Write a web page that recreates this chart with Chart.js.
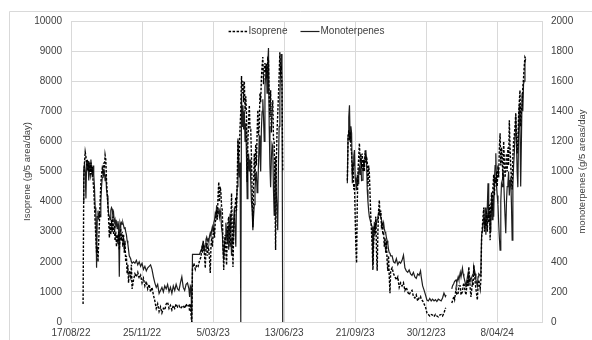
<!DOCTYPE html>
<html>
<head>
<meta charset="utf-8">
<title>Isoprene and monoterpene emissions</title>
<script src="https://cdn.jsdelivr.net/npm/chart.js@4.4.0/dist/chart.umd.min.js"></script>
<style>
  html, body { margin: 0; padding: 0; background: #fff; }
  #wrap { position: relative; width: 592px; height: 340px; }
</style>
</head>
<body>
<div id="wrap"><canvas id="emissionChart" width="592" height="340"></canvas></div>
<script>
// day 0 = 17/08/22, x axis runs in days from there
const startDate = new Date(2022, 7, 17);
const xTickStep = 100;
const xMaxDay = 663;

// sampling days (null rows break the lines where there is no data)
const days = [
  17, 18, 19, 20, 21, 22, 23, 24, 25, 26,
  27, 28, 29, 30, 31, 32, 33, 34, 35, 36,
  37, 38, 39, 40, 41, 42, 43, 44, 45, 46,
  47, 48, 49, 50, 51, 52, 53, 54, 55, 56,
  57, 58, 59, 60, 61, 62, 63, 64, 65, 66,
  67, 68, 69, 70, 71, 72, 73, 74, 75, 76,
  77, 78, 79, 80, 81, 82, 84, 85, 86, 88,
  90, 92, 94, 96, 98, 100, 102, 104, 106, 108,
  110, 112, 114, 116, 118, 120, 122, 124, 126, 128,
  130, 132, 134, 136, 138, 140, 142, 144, 146, 148,
  150, 152, 154, 156, 158, 160, 162, 164, 166, 167,
  168, 169, 170, 171, 173, 175, 177, 179, 181, 183,
  184, 185, 186, 187, 188, 189, 190, 191, 192, 193,
  194, 195, 196, 197, 198, 199, 200, 201, 202, 203,
  204, 205, 206, 207, 208, 209, 210, 211, 212, 213,
  214, 215, 216, 217, 218, 219, 220, 221, 222, 223,
  224, 225, 226, 227, 228, 229, 230, 231, 232, 233,
  234, 235, 236, 237, 238, 239, 240, 241, 242, 243,
  244, 245, 246, 247, 248, 249, 250, 251, 252, 253,
  254, 255, 256, 257, 258, 259, 260, 261, 262, 263,
  264, 265, 266, 267, 268, 269, 270, 271, 272, 273,
  274, 275, 276, 277, 278, 279, 280, 281, 282, 283,
  284, 285, 286, 287, 288, 289, 290, 291, 292, 293,
  294, 295, 296, 297, 298, 300,
  // second season
  389, 390, 391, 392, 393, 394, 395, 396, 397, 398,
  399, 400, 401, 402, 403, 404, 405, 406, 407, 408,
  409, 410, 411, 412, 413, 414, 415, 416, 417, 418,
  419, 420, 422, 424, 425, 426, 427, 428, 429, 430,
  431, 432, 433, 434, 435, 436, 437, 438, 439, 440,
  441, 442, 443, 444, 445, 446, 447, 448, 449, 450,
  452, 454, 456, 458, 460, 462, 464, 466, 468, 470,
  472, 474, 476, 478, 480, 482, 484, 486, 488, 490,
  492, 493, 495, 497, 499, 501, 503, 505, 507, 509,
  511, 513, 515, 517, 519, 521, 523, 525, 527, 528,
  531, 536, 537, 539, 540, 542, 543, 545, 546, 548,
  549, 551, 552, 553, 555, 556, 558, 559, 560, 562,
  563, 565, 566, 567, 569, 570, 572, 573, 574, 576,
  577, 578, 579, 580, 581, 582, 583, 584, 585, 586,
  587, 588, 589, 590, 591, 592, 593, 594, 595, 596,
  597, 598, 599, 600, 601, 602, 603, 604, 605, 606,
  607, 608, 609, 610, 611, 612, 613, 614, 615, 616,
  617, 618, 619, 620, 621, 622, 623, 624, 625, 626,
  627, 628, 629, 630, 631, 632, 633, 634, 635, 636,
  637, 638, 639, 640
];

// isoprene, g/5 area/day (left axis)
const isoprene = [
  600, 4800, 5300, 5650, 5500, 5200, 5400, 5000, 5300, 5050,
  4900, 5300, 4900, 5150, 4700, 4400, 3900, 3300, 2800, 2300,
  2500, 2000, 2700, 3300, 4000, 4600, 4900, 5100, 5000, 5300,
  5100, 5550, 5400, 4700, 4300, 3800, 3400, 2800, 3300, 2900,
  3400, 3000, 3500, 2900, 3200, 2700, 3000, 2500, 2900, 2600,
  3000, 2400, 2800, 3100, 2700, 3000, 2500, 2900, 2300, 2700,
  2000, 2200, 1600, 1900, 1300, 1700, 1500, 1900, 1100, 1400,
  1600, 1500, 1650, 1450, 1550, 1300, 1450, 1200, 1350, 1100,
  1250, 1000, 1150, 900, 700, 450, 600, 350, 500, 300,
  450, 400, 600, 660, 450, 550, 400, 550, 450, 600,
  500, 550, 450, 500, 550, 450, 600, 500, 550, 350,
  600, 200, 0, 1800, 1950, 1750, 1900, 1850, 2050, 2160,
  2450, 2300, 2700, 2400, 2200, 1790, 2450, 2620, 2200, 2500,
  2390, 2100, 1630, 2500, 2790, 2500, 2900, 3050, 2800, 3300,
  3500, 3720, 3400, 4200, 4650, 4000, 4500, 4320, 3800, 3720,
  2500, 1730, 2600, 2900, 2300, 1890, 2900, 3300, 3500, 2800,
  2500, 3300, 4280, 3000, 1830, 3000, 3500, 3800, 4150, 3700,
  4700, 6040, 5300, 5710, 6500, 7000, 8170, 7600, 8000, 7300,
  8000, 7000, 7500, 6900, 4650, 6000, 6700, 7200, 6400, 6400,
  5500, 4300, 3150, 4500, 5600, 4700, 5900, 5200, 6300, 7040,
  6200, 6500, 7600, 7300, 8100, 8500, 8800, 7900, 8400, 8600,
  8300, 8600, 8100, 8750, 8700, 7400, 6800, 7700, 6300, 7000,
  7370, 6100, 6000, 4500, 2390, 5200, 6300, 6900, 7500, 8200,
  8960, 8300, 8400, 7900, 5000, null,
  4700, 6100, 6370, 6040, 6300, 5800, 5600, 4900, 5300, 4400,
  4600, 3500, 2500, 1960, 4000, 5000, 5500, 5940, 5300, 5600,
  5100, 5600, 5000, 5400, 5000, 5700, 5300, 5500, 5300, 4500,
  5200, 4940, 3500, 2500, 1730, 2600, 3200, 2900, 3500, 2400,
  1700, 3000, 3700, 4050, 3500, 3700, 3200, 3300, 2900, 3000,
  2500, 2800, 2300, 2700, 2000, 1700, 2200, 1500, 960, 1700,
  1800, 1600, 1500, 1400, 1500, 1150, 1300, 1200, 1300, 1050,
  1150, 1000, 900, 1000, 1050, 850, 800, 900, 700, 800,
  850, 750, 700, 600, 500, 300, 250, 200, 250, 230,
  180, 250, 200, 170, 230, 250, 200, 300, 450, 460,
  null, 630, 700, 850, 750, 1100, 900, 960, 1200, 1200,
  900, 1000, 1200, 1300, 1000, 900, 1400, 1200, 1830, 1100,
  830, 1300, 1200, 1890, 1300, 1100, 730, 1200, 1400, 1100,
  1400, 2800, 3150, 3500, 3800, 3000, 3400, 3200, 3700, 3000,
  3600, 3300, 3900, 2720, 3800, 4300, 3700, 4500, 4900, 4200,
  4800, 4600, 5000, 4500, 5200, 4800, 5800, 6270, 5200, 5800,
  5500, 4700, 6000, 5400, 4800, 5100, 5600, 5000, 5800, 5200,
  6700, 5800, 5200, 4700, 4400, 5500, 6000, 6200, 6500, 6900,
  6300, 5600, 5900, 6800, 7300, 7700, 6500, 7000, 7200, 7800,
  8100, 8500, 8800, 8750
];

// monoterpenes, g/5 areas/day (right axis)
const monoterpenes = [
  800, 1020, 1050, 1000, 820, 1060, 1010, 1070, 940, 1060,
  1000, 1080, 1020, 960, 1040, 980, 900, 760, 720, 360,
  700, 740, 680, 720, 700, 800, 900, 960, 1020, 980,
  1000, 940, 980, 880, 840, 780, 720, 700, 680, 740,
  760, 750, 700, 720, 660, 680, 640, 660, 620, 670,
  640, 300, 660, 640, 660, 650, 660, 640, 620, 630,
  600, 580, 540, 520, 480, 440, 420, 400, 390, 400,
  390, 410, 380, 400, 370, 390, 350, 370, 340, 360,
  370, 380, 350, 300, 260, 230, 250, 190, 210, 230,
  200, 240, 220, 250, 200, 230, 190, 240, 210, 250,
  220, 210, 260, 300, 230, 210, 250, 260, 220, 166,
  240, 230, 0, 450, 450, 450, 450, 450, 450, 478,
  500, 512, 490, 500, 478, 520, 550, 564, 540, 550,
  532, 570, 590, 570, 610, 632, 600, 660, 678, 720,
  700, 776, 740, 720, 756, 700, 740, 698, 620, 590,
  480, 412, 500, 560, 660, 600, 520, 640, 480, 620,
  720, 580, 440, 560, 520, 680, 760, 600, 500, 800,
  900, 1220, 1080, 960, 1060, 0, 1520, 1300, 1440, 1280,
  1400, 1200, 1320, 1100, 820, 1000, 1120, 1000, 1080, 940,
  800, 740, 610, 700, 780, 880, 960, 1000, 860, 900,
  1060, 1240, 1120, 1000, 1280, 1400, 1480, 1360, 1200, 1560,
  1640, 1700, 1520, 1720, 1820, 1300, 1040, 896, 1080, 1180,
  1160, 880, 710, 960, 1100, 860, 740, 610, 1040, 1300,
  1500, 1680, 1780, 1660, 0, null,
  922, 1240, 1360, 1440, 1200, 1300, 1254, 922, 1040, 1100,
  1142, 960, 920, 876, 980, 920, 1000, 1030, 980, 1080,
  940, 942, 1000, 1060, 1040, 1100, 1142, 1080, 880, 800,
  740, 698, 660, 630, 380, 560, 660, 656, 620, 660,
  680, 700, 720, 740, 724, 700, 680, 660, 640, 660,
  620, 600, 590, 560, 540, 520, 480, 460, 458, 440,
  440, 400, 392, 420, 380, 400, 390, 410, 444, 360,
  340, 330, 346, 320, 310, 330, 300, 290, 320, 310,
  340, 300, 240, 212, 180, 146, 140, 156, 140, 152,
  140, 148, 136, 152, 146, 140, 160, 192, 170, 180,
  null, 220, 240, 258, 270, 280, 260, 300, 280, 330,
  300, 358, 320, 300, 260, 232, 300, 326, 260, 290,
  280, 310, 320, 366, 320, 280, 240, 300, 320, 310,
  340, 580, 600, 660, 700, 640, 760, 580, 700, 760,
  922, 700, 740, 600, 720, 800, 680, 840, 700, 940,
  1040, 1122, 900, 840, 780, 660, 560, 478, 800, 920,
  900, 1000, 960, 820, 700, 590, 800, 900, 920, 1000,
  840, 940, 960, 780, 544, 900, 1040, 1120, 1240, 1388,
  1200, 1000, 896, 1240, 1440, 1300, 900, 1200, 1520, 1400,
  1580, 1600, 1720, 1750
];

const leftTitle = 'Isoprene (g/5 area/day)';
const rightTitle = 'monoterpenes (g/5 areas/day';

const fontFamily = "'Liberation Sans', Arial, sans-serif";
const axisFont = { family: fontFamily, size: 10 };
const textColor = '#404040';
const gridColor = '#d9d9d9';

function dayLabel(value) {
  const d = new Date(startDate.getFullYear(), startDate.getMonth(), startDate.getDate() + value);
  const mm = String(d.getMonth() + 1).padStart(2, '0');
  const yy = String(d.getFullYear()).slice(2);
  return d.getDate() + '/' + mm + '/' + yy;
}

function toPoints(values) {
  return days.map((d, i) => ({ x: d, y: values[i] }));
}

// outer frame, rotated axis titles (both read bottom to top) and an
// inline legend sitting on top of the plot area
const chartDecor = {
  id: 'chartDecor',
  beforeDraw(chart) {
    const ctx = chart.ctx;
    ctx.save();
    ctx.strokeStyle = gridColor;
    ctx.lineWidth = 1;
    ctx.beginPath();
    ctx.moveTo(9.5, chart.height);
    ctx.lineTo(9.5, 11.5);
    ctx.lineTo(chart.width, 11.5);
    ctx.stroke();
    ctx.restore();
  },
  afterDraw(chart) {
    const ctx = chart.ctx;
    const area = chart.chartArea;
    const midY = (area.top + area.bottom) / 2;

    const drawTitle = (text, x) => {
      ctx.save();
      ctx.fillStyle = textColor;
      ctx.font = '9.5px ' + fontFamily;
      ctx.textAlign = 'center';
      ctx.textBaseline = 'middle';
      ctx.translate(x, midY);
      ctx.rotate(-Math.PI / 2);
      ctx.fillText(text, 0, 0);
      ctx.restore();
    };
    drawTitle(leftTitle, 27);
    drawTitle(rightTitle, 582);

    // legend
    ctx.save();
    ctx.font = '10px ' + fontFamily;
    ctx.textBaseline = 'middle';
    const sample = 19, gapText = 1, gapItem = 13;
    const items = chart.data.datasets.map(ds => ({
      ds, w: ctx.measureText(ds.label).width
    }));
    let total = 0;
    items.forEach((it, i) => { total += sample + gapText + it.w + (i ? gapItem : 0); });
    let x = (area.left + area.right) / 2 - total / 2;
    const y = area.top + 10.5;
    items.forEach((it, i) => {
      if (i) x += gapItem;
      ctx.strokeStyle = it.ds.borderColor;
      ctx.lineWidth = it.ds.borderWidth;
      ctx.setLineDash(it.ds.borderDash || []);
      ctx.beginPath();
      ctx.moveTo(x, y);
      ctx.lineTo(x + sample, y);
      ctx.stroke();
      ctx.setLineDash([]);
      ctx.fillStyle = textColor;
      ctx.fillText(it.ds.label, x + sample + gapText, y);
      x += sample + gapText + it.w;
    });
    ctx.restore();
  }
};

const ctx = document.getElementById('emissionChart').getContext('2d');
new Chart(ctx, {
  type: 'line',
  data: {
    datasets: [
      {
        label: 'Isoprene',
        data: toPoints(isoprene),
        yAxisID: 'y',
        borderColor: '#000000',
        borderWidth: 1.4,
        borderDash: [2.5, 1.5],
        pointRadius: 0,
        tension: 0,
        spanGaps: false
      },
      {
        label: 'Monoterpenes',
        data: toPoints(monoterpenes),
        yAxisID: 'y1',
        borderColor: '#1e1e1e',
        borderWidth: 1.2,
        pointRadius: 0,
        tension: 0,
        spanGaps: false
      }
    ]
  },
  options: {
    responsive: false,
    animation: false,
    devicePixelRatio: 1,
    layout: { padding: { top: 21, left: 0, right: 0, bottom: 0 } },
    plugins: {
      tooltip: { enabled: false },
      legend: { display: false }
    },
    scales: {
      x: {
        type: 'linear',
        min: 0,
        max: xMaxDay,
        afterFit: (scale) => { scale.height = 18; },
        ticks: {
          stepSize: xTickStep,
          includeBounds: false,
          autoSkip: false,
          maxRotation: 0,
          padding: 5,
          font: axisFont,
          color: textColor,
          callback: (v) => dayLabel(v)
        },
        grid: { color: gridColor, drawTicks: false },
        border: { color: gridColor }
      },
      y: {
        position: 'left',
        min: 0,
        max: 10000,
        afterFit: (scale) => { scale.width = 71; },
        ticks: {
          stepSize: 1000, padding: 9, font: axisFont, color: textColor,
          callback: (v) => String(v)
        },
        grid: { color: gridColor, drawTicks: false },
        border: { color: gridColor }
      },
      y1: {
        position: 'right',
        min: 0,
        max: 2000,
        afterFit: (scale) => { scale.width = 50; },
        ticks: {
          stepSize: 200, padding: 9, font: axisFont, color: textColor,
          callback: (v) => String(v)
        },
        grid: { drawOnChartArea: false, drawTicks: false },
        border: { color: gridColor }
      }
    }
  },
  plugins: [chartDecor]
});
</script>
</body>
</html>
